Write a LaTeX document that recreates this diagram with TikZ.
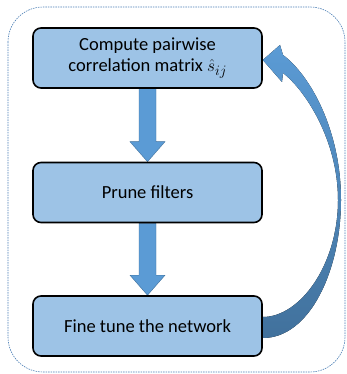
\documentclass[tikz,border=0pt]{standalone}
\usepackage{fontspec}
\setmainfont{Carlito}
\usetikzlibrary{calc,backgrounds}
\definecolor{boxfill}{HTML}{9DC3E6}
\definecolor{arrfill}{HTML}{5B9BD5}
\definecolor{arrdark}{HTML}{41719C}
\definecolor{frameblue}{HTML}{4A7EB4}
\begin{document}
\begin{tikzpicture}[x=1pt,y=-1pt,
  stepbox/.style={draw=black, line width=1.6pt, fill=boxfill, rounded corners=8pt,
    minimum width=229pt, minimum height=60pt, align=center, inner sep=0pt,
    font=\fontsize{18.5}{21}\selectfont},
  downarr/.style={fill=arrfill, draw=arrdark, line width=0.4pt},
  looparr/.style={top color=arrfill, bottom color=arrdark, draw=none},
  frame/.style={draw=frameblue, line width=0.6pt, dash pattern=on 1.5pt off 1pt, rounded corners=35pt}]
\useasboundingbox (0,0) rectangle (347,374);
\node[stepbox] (b1) at (147.5,58) {Compute pairwise\\correlation matrix $\hat{s}$\raisebox{-0.35ex}{\fontsize{14}{14}\selectfont$ij$}};
\node[stepbox] (b2) at (147.5,192.5) {Prune filters};
\node[stepbox] (b3) at (147.5,326) {Fine tune the network};
\begin{scope}[on background layer]
\draw[frame] (8,7) rectangle (345,372);
\draw[downarr] ($(b1.south)+(-8.5,0)$) -- ($(b2.north)+(-8.5,-20)$) -- ($(b2.north)+(-17.5,-20)$)
  -- (b2.north) -- ($(b2.north)+(17.5,-20)$) -- ($(b2.north)+(8.5,-20)$) -- ($(b1.south)+(8.5,0)$) -- cycle;
\draw[downarr] ($(b2.south)+(-8.5,0)$) -- ($(b3.north)+(-8.5,-20)$) -- ($(b3.north)+(-17.5,-20)$)
  -- (b3.north) -- ($(b3.north)+(17.5,-20)$) -- ($(b3.north)+(8.5,-20)$) -- ($(b2.south)+(8.5,0)$) -- cycle;
\fill[looparr] ($(b3.east)+(-2,12)$) -- ($(b3.east)+(0,12)$)
  .. controls (310,338) and (341,270) .. (341,200)
  .. controls (341,130) and (310,75) .. (283,55)
  -- (280,45) -- ($(b1.east)+(0,2)$) -- (282,82) -- (283,73)
  .. controls (305,90) and (338,140) .. (338,200)
  .. controls (338,265) and (300,317) .. ($(b3.east)+(0,-9)$) -- ($(b3.east)+(-2,-9)$) -- cycle;
\end{scope}
\end{tikzpicture}
\end{document}
